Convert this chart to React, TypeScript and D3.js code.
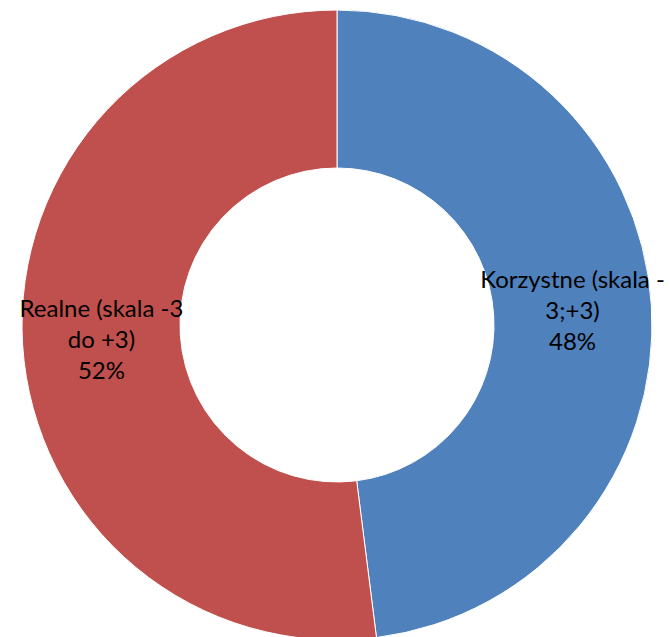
import React from 'react';
import * as d3 from 'd3';

// Series data
const categories = ['Korzystne (skala -3;+3)', 'Realne (skala -3 do +3)'];
const values = [48, 52];
const labelLines = [
  ['Korzystne (skala -', '3;+3)', '48%'],
  ['Realne (skala -3', 'do +3)', '52%'],
];
const colors = ['#4F81BD', '#C0504D'];

const WIDTH = 670;
const HEIGHT = 637;

export default function App() {
  const cx = 337;
  const cy = 325;
  const outerR = 315;
  const innerR = 157;

  const pie = d3.pie<number>().sort(null).value(d => d);
  const arcs = pie(values);
  const arc = d3.arc<d3.PieArcDatum<number>>().innerRadius(innerR).outerRadius(outerR);

  const fontSize = 24;
  const lineH = 31;

  return (
    <svg
      width={WIDTH}
      height={HEIGHT}
      style={{ position: 'absolute', top: 0, left: 0, display: 'block', background: '#fff' }}
    >
      <g transform={`translate(${cx},${cy})`}>
        {arcs.map((a, i) => (
          <path key={categories[i]} d={arc(a) || ''} fill={colors[i]} stroke="#fff" strokeWidth={1} />
        ))}
        {arcs.map((a, i) => {
          const [x, y] = arc.centroid(a);
          const lines = labelLines[i];
          return (
            <text
              key={'l' + i}
              x={x}
              y={y}
              textAnchor="middle"
              fontFamily="Lato, 'Open Sans', sans-serif"
              fontSize={fontSize}
              fill="#000"
            >
              {lines.map((t, j) => (
                <tspan key={j} x={x} y={y + (j - (lines.length - 1) / 2) * lineH + fontSize * 0.35}>
                  {t}
                </tspan>
              ))}
            </text>
          );
        })}
      </g>
    </svg>
  );
}
